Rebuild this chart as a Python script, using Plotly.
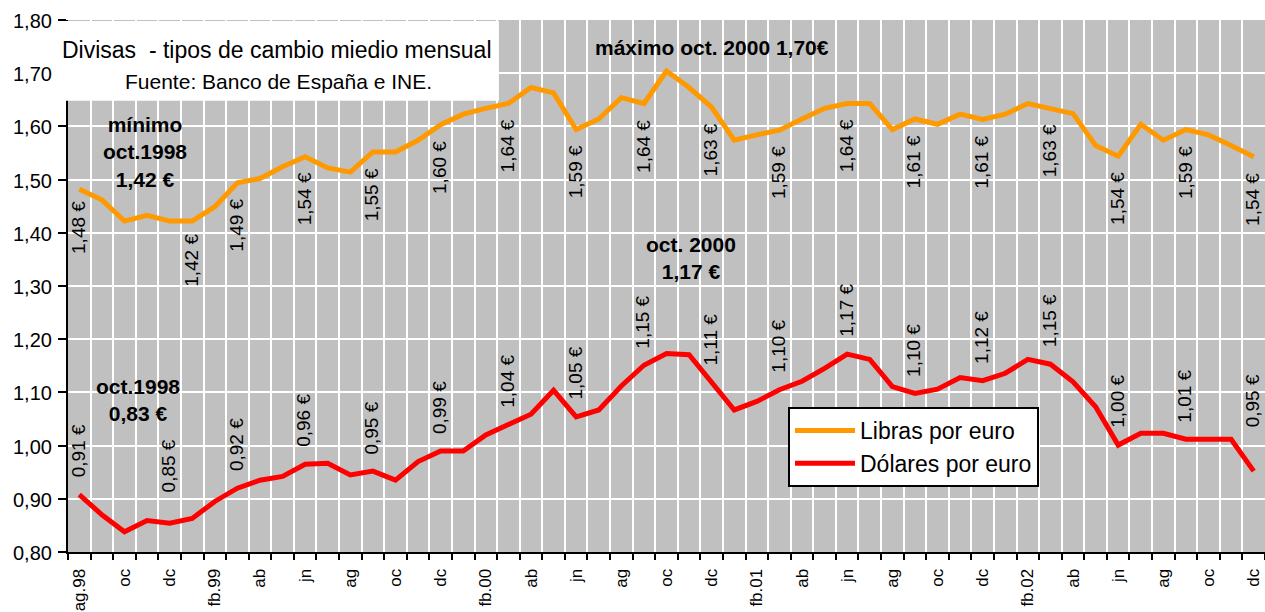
import plotly.graph_objects as go

# ---- data (monthly averages, ag.98 .. dc.02) ----
months = ["ag.98", "sp", "oc", "nv", "dc", "en.99", "fb.99", "mr", "ab", "my", "jn", "jl",
          "ag", "sp", "oc", "nv", "dc", "en.00", "fb.00", "mr", "ab", "my", "jn", "jl",
          "ag", "sp", "oc", "nv", "dc", "en.01", "fb.01", "mr", "ab", "my", "jn", "jl",
          "ag", "sp", "oc", "nv", "dc", "en.02", "fb.02", "mr", "ab", "my", "jn", "jl",
          "ag", "sp", "oc", "nv", "dc"]

tick_labels = ["ag.98", "oc", "dc", "fb.99", "ab", "jn", "ag", "oc", "dc",
               "fb.00", "ab", "jn", "ag", "oc", "dc",
               "fb.01", "ab", "jn", "ag", "oc", "dc",
               "fb.02", "ab", "jn", "ag", "oc", "dc"]

y_ticks = [0.8, 0.9, 1.0, 1.1, 1.2, 1.3, 1.4, 1.5, 1.6, 1.7, 1.8]

libras = [1.482, 1.462, 1.422, 1.433, 1.422, 1.422, 1.449, 1.494, 1.502, 1.524,
          1.543, 1.522, 1.514, 1.552, 1.552, 1.574, 1.603, 1.623, 1.634, 1.643,
          1.673, 1.663, 1.594, 1.614, 1.654, 1.643, 1.704, 1.673, 1.636, 1.574,
          1.584, 1.593, 1.614, 1.634, 1.643, 1.643, 1.594, 1.614, 1.604, 1.623,
          1.613, 1.623, 1.643, 1.634, 1.624, 1.564, 1.544, 1.604, 1.574, 1.594,
          1.584, 1.564, 1.543]

dolares = [0.908, 0.870, 0.838, 0.859, 0.854, 0.863, 0.895, 0.920, 0.935, 0.942,
           0.965, 0.967, 0.945, 0.952, 0.935, 0.970, 0.990, 0.990, 1.020, 1.039,
           1.059, 1.104, 1.054, 1.067, 1.112, 1.151, 1.173, 1.171, 1.118, 1.067,
           1.083, 1.105, 1.121, 1.145, 1.172, 1.162, 1.111, 1.098, 1.106, 1.128,
           1.122, 1.136, 1.162, 1.153, 1.120, 1.073, 1.001, 1.023, 1.023, 1.012,
           1.012, 1.012, 0.952]

libras_label_idx = [0, 5, 7, 10, 13, 16, 19, 22, 25, 28, 31, 34, 37, 40, 43, 46, 49, 52]
libras_label_txt = ["1,48 €", "1,42 €", "1,49 €", "1,54 €", "1,55 €", "1,60 €", "1,64 €",
                    "1,59 €", "1,64 €", "1,63 €", "1,59 €", "1,64 €", "1,61 €", "1,61 €",
                    "1,63 €", "1,54 €", "1,59 €", "1,54 €"]

dolares_label_idx = [0, 4, 7, 10, 13, 16, 19, 22, 25, 28, 31, 34, 37, 40, 43, 46, 49, 52]
dolares_label_txt = ["0,91 €", "0,85 €", "0,92 €", "0,96 €", "0,95 €", "0,99 €", "1,04 €",
                     "1,05 €", "1,15 €", "1,11 €", "1,10 €", "1,17 €", "1,10 €", "1,12 €",
                     "1,15 €", "1,00 €", "1,01 €", "0,95 €"]

FONT = "Liberation Sans, Arial, sans-serif"
n = len(months)
x = list(range(n))

fig = go.Figure()
fig.add_trace(go.Scatter(x=x, y=libras, mode="lines", name="Libras por euro",
                         line=dict(color="#FF9900", width=5), hoverinfo="skip"))
fig.add_trace(go.Scatter(x=x, y=dolares, mode="lines", name="Dólares por euro",
                         line=dict(color="#FF0000", width=5), hoverinfo="skip"))

ann = []
lib_gap = {0: 10, 5: 11}
for i, t in zip(libras_label_idx, libras_label_txt):
    ann.append(dict(x=i, y=libras[i], xref="x", yref="y", text=t, showarrow=False,
                    textangle=-90, xanchor="center", yanchor="top",
                    yshift=-lib_gap.get(i, 14), xshift=-1,
                    font=dict(size=19, color="black", family=FONT)))
dol_gap = {4: 29, 52: 42}
for i, t in zip(dolares_label_idx, dolares_label_txt):
    ann.append(dict(x=i, y=dolares[i], xref="x", yref="y", text=t, showarrow=False,
                    textangle=-90, xanchor="center", yanchor="bottom",
                    yshift=dol_gap.get(i, 15), xshift=-1,
                    font=dict(size=19, color="black", family=FONT)))

# y-axis tick labels (decimal comma), placed just left of the tick marks
for v in y_ticks:
    ann.append(dict(x=0, y=v, xref="paper", yref="y", xanchor="right", yanchor="middle",
                    xshift=-14, yshift=-1, text=f"{v:.2f}".replace(".", ","),
                    showarrow=False, font=dict(size=20, color="black", family=FONT)))

bold = dict(size=21, color="black", family=FONT)
ann += [
    dict(x=28.0, y=1.749, xref="x", yref="y", text="<b>máximo oct. 2000 1,70€</b>",
         showarrow=False, font=bold),
    dict(x=2.9, y=1.552, xref="x", yref="y", text="<b>mínimo<br>oct.1998<br>1,42 €</b>",
         showarrow=False, font=bold),
    dict(x=27.1, y=1.353, xref="x", yref="y", text="<b>oct. 2000<br>1,17 €</b>",
         showarrow=False, font=bold),
    dict(x=2.6, y=1.086, xref="x", yref="y", text="<b>oct.1998<br>0,83 €</b>",
         showarrow=False, font=bold),
    dict(x=-0.007, y=0.9436, xref="paper", yref="paper", xanchor="left", yanchor="middle",
         text="Divisas  - tipos de cambio miedio mensual", showarrow=False,
         font=dict(size=23, color="black", family=FONT)),
    dict(x=0.176, y=0.8835, xref="paper", yref="paper", xanchor="center", yanchor="middle",
         text="Fuente: Banco de España e INE.", showarrow=False,
         font=dict(size=21, color="black", family=FONT)),
]

fig.update_layout(
    width=1265, height=612,
    margin=dict(l=68, r=0, t=20, b=60),
    paper_bgcolor="white", plot_bgcolor="#C0C0C0",
    separators=",.",
    font=dict(family=FONT, size=20, color="black"),
    showlegend=True,
    legend=dict(x=0.6015, y=0.2726, xanchor="left", yanchor="top",
                bgcolor="white", bordercolor="black", borderwidth=2,
                font=dict(size=23, family=FONT, color="black"),
                itemwidth=60),
    annotations=ann,
    shapes=[dict(type="rect", xref="paper", yref="paper",
                 x0=-0.0084, x1=0.36, y0=0.848, y1=0.998,
                 fillcolor="white", line=dict(width=0), layer="above")],
    hovermode=False,
)

fig.update_xaxes(
    range=[-0.5, n - 0.5], automargin=False,
    tickmode="array", tickvals=list(range(0, n, 2)), ticktext=tick_labels,
    tickangle=-90, ticks="", showgrid=False, zeroline=False,
    tickfont=dict(size=17, family=FONT, color="black"),
    ticklabelstandoff=8,
    showline=True, linecolor="black", linewidth=2,
    minor=dict(tickmode="linear", tick0=-0.5, dtick=1, ticks="outside", ticklen=6,
               tickwidth=2, tickcolor="black", showgrid=True, gridcolor="white",
               gridwidth=2),
)
fig.update_yaxes(
    range=[0.8, 1.8], tickmode="array", tickvals=y_ticks, automargin=False,
    ticks="outside", ticklen=8, tickwidth=2, tickcolor="black",
    showticklabels=False,
    showgrid=True, gridcolor="white", gridwidth=2, zeroline=False,
    showline=True, linecolor="black", linewidth=2,
)

fig.write_html(
    "out.html",
    config={"displayModeBar": False},
    post_script="document.body.style.margin='0px';document.body.style.overflow='hidden';",
)
